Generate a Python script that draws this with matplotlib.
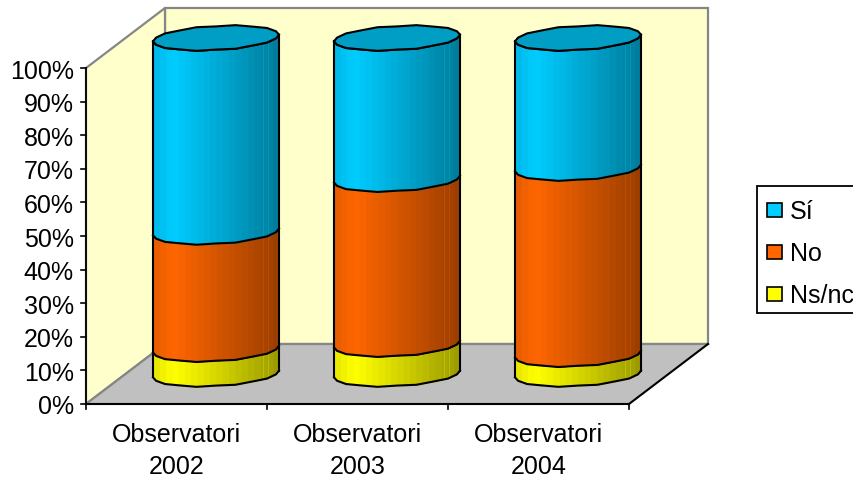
import matplotlib
import matplotlib.pyplot as plt
import numpy as np
from matplotlib.patches import Polygon, Rectangle

matplotlib.use("Agg")
plt.rcParams["font.family"] = ["Liberation Sans", "DejaVu Sans"]

# values, in percent
categories = ["Observatori\n2002", "Observatori\n2003", "Observatori\n2004"]
ns_nc = [7.4, 8.9, 5.9]
no = [34.9, 49.1, 55.4]
si = [57.7, 42.0, 38.7]
y_ticks = list(range(0, 101, 10))

series_labels = ["Sí", "No", "Ns/nc"]
series_colors = ["#00CCFF", "#FF6600", "#FFFF00"]

# one x unit = one category slot, one y unit = one percent
FIG_W, FIG_H = 854, 479
X0_PX, Y0_PX = 86, 404
SLOT_PX, PCT_PX = 181, 3.36
DEPTH_X, DEPTH_Y = 79 / SLOT_PX, 60 / PCT_PX   # full depth of the floor
RX, RY, TILT = 63 / SLOT_PX, 12 / PCT_PX, 1.0  # cylinder section
WALL = "#FFFFCC"
FLOOR = "#C0C0C0"
GRAY = "#868686"


def shade(color, f):
    rgb = np.array(matplotlib.colors.to_rgb(color))
    return tuple(rgb * f)


def brightness(f):
    # light comes from the left of the cylinder
    return np.interp(f, [0, 0.16, 1], [0.9, 1.0, 0.6])


def wobble(n):
    # the source draws the section as a rough polygon, not a clean ellipse
    return 1 + 0.035 * (-1.0) ** np.arange(n)


fig = plt.figure(figsize=(FIG_W / 100, FIG_H / 100), dpi=100)
ax = fig.add_axes([0, 0, 1, 1])
ax.set_xlim(-X0_PX / SLOT_PX, (FIG_W - X0_PX) / SLOT_PX)
ax.set_ylim((Y0_PX - FIG_H) / PCT_PX, Y0_PX / PCT_PX)
ax.axis("off")

n_cat = len(categories)

# walls and floor
ax.add_patch(Polygon([(DEPTH_X, DEPTH_Y), (n_cat + DEPTH_X, DEPTH_Y),
                      (n_cat + DEPTH_X, 100 + DEPTH_Y), (DEPTH_X, 100 + DEPTH_Y)],
                     fc=WALL, ec=GRAY, lw=1.6, zorder=1))
ax.add_patch(Polygon([(0, 0), (DEPTH_X, DEPTH_Y), (DEPTH_X, 100 + DEPTH_Y), (0, 100)],
                     fc=WALL, ec=GRAY, lw=1.6, zorder=1))
ax.add_patch(Polygon([(0, 0), (n_cat, 0), (n_cat + DEPTH_X, DEPTH_Y), (DEPTH_X, DEPTH_Y)],
                     fc=FLOOR, ec="none", zorder=2))
ax.plot([0, DEPTH_X], [0, DEPTH_Y], color=GRAY, lw=1.6, zorder=3)
ax.plot([DEPTH_X, n_cat + DEPTH_X], [DEPTH_Y, DEPTH_Y], color=GRAY, lw=1.6, zorder=3)
ax.plot([n_cat, n_cat + DEPTH_X], [0, DEPTH_Y], color="black", lw=1.5, zorder=3)

# axis lines, ticks and labels
ax.plot([0, 0], [0, 100], color="black", lw=1.3, zorder=4)
ax.plot([0, n_cat], [0, 0], color="black", lw=1.5, zorder=4)
for t in y_ticks:
    ax.plot([-5 / SLOT_PX, 0], [t, t], color="black", lw=1.2, zorder=4)
    ax.text(-12 / SLOT_PX, t - 1 / PCT_PX, f"{t}%", ha="right", va="center_baseline",
            fontsize=18, color="black")
for i in range(n_cat + 1):
    ax.plot([i, i], [0, -5 / PCT_PX], color="black", lw=1.2, zorder=4)
for i, lab in enumerate(categories):
    # two separate lines, the gap between them is wider than a normal line spacing
    for line, offset in zip(lab.split("\n"), [29, 61]):
        ax.text(i + 0.5, -offset / PCT_PX, line, ha="center", va="center_baseline",
                fontsize=18, color="black")

# cylinders: stacked bottom to top
angles = np.linspace(0, np.pi, 11)
for i in range(n_cat):
    cx = i + 0.5 + DEPTH_X / 2
    y_base = DEPTH_Y / 2
    arc_x = cx - RX * np.cos(angles)
    arc_dy = -RY * np.sin(angles) * wobble(len(angles)) - TILT * np.cos(angles)
    strips = np.linspace(cx - RX, cx + RX, 21)
    lower = 0
    for values, color in zip([ns_nc, no, si], series_colors[::-1]):
        upper = lower + values[i]
        # each strip runs on to the right edge, the next one paints over it
        for a in strips[:-1]:
            xs = np.concatenate([[a], arc_x[arc_x > a]])
            dy = np.interp(xs, arc_x, arc_dy)
            f = (a + (strips[1] - strips[0]) / 2 - strips[0]) / (strips[-1] - strips[0])
            ax.fill_between(xs, y_base + lower + dy, y_base + upper + dy,
                            color=shade(color, brightness(f)), lw=0, zorder=5)
        # seam lines near the right side
        for s in [0.87, 0.915]:
            xs = cx - RX + s * 2 * RX
            dy = np.interp(xs, arc_x, arc_dy)
            ax.plot([xs, xs], [y_base + lower + dy, y_base + upper + dy],
                    color=shade(color, 0.85), lw=0.5, alpha=0.7, zorder=5.5)
        ax.plot(arc_x, y_base + upper + arc_dy, color="black", lw=1.5, zorder=6)
        if lower == 0:
            ax.plot(arc_x, y_base + arc_dy, color="black", lw=1.5, zorder=6)
        lower = upper
    # sides and top lid
    ax.plot([arc_x[0], arc_x[0]], [y_base + arc_dy[0], y_base + lower + arc_dy[0]],
            color="black", lw=1.5, zorder=6)
    ax.plot([arc_x[-1], arc_x[-1]], [y_base + arc_dy[-1], y_base + lower + arc_dy[-1]],
            color="black", lw=1.5, zorder=6)
    lid_t = np.linspace(0, 2 * np.pi, 21)[:-1]
    lid = np.column_stack([cx - RX * np.cos(lid_t),
                           y_base + lower - RY * np.sin(lid_t) * wobble(20) - TILT * np.cos(lid_t)])
    ax.add_patch(Polygon(lid, fc=shade(series_colors[0], 0.77), ec="black", lw=1.5,
                         joinstyle="round", zorder=7))

# legend box, cut by the right border as in the source
lx = lambda px: (px - X0_PX) / SLOT_PX
ly = lambda px: (Y0_PX - px) / PCT_PX
ax.add_patch(Rectangle((lx(757), ly(313)), lx(870) - lx(757), ly(186) - ly(313),
                       fc="white", ec="black", lw=1.3, zorder=8))
for k, (lab, color) in enumerate(zip(series_labels, series_colors)):
    py = 209.5 + 42 * k
    ax.add_patch(Rectangle((lx(767), ly(py + 7)), 15 / SLOT_PX, 14 / PCT_PX,
                           fc=color, ec="black", lw=1.2, zorder=9))
    ax.text(lx(790), ly(py), lab, ha="left", va="center_baseline", fontsize=18,
            color="black", zorder=9)

fig.savefig("out.png", dpi=100)
plt.close(fig)
